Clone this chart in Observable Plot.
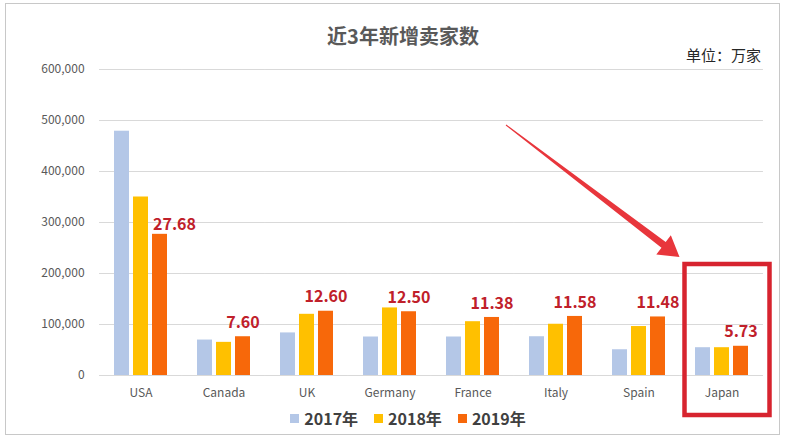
<!DOCTYPE html>
<html>
<head>
<meta charset="utf-8">
<script src="https://cdn.jsdelivr.net/npm/d3@7"></script>
<script src="https://cdn.jsdelivr.net/npm/@observablehq/plot@0.6"></script>
<style>
  html, body { margin: 0; padding: 0; background: #fff; }
  #wrap { position: relative; width: 787px; height: 439px; background: #fff; overflow: hidden;
          font-family: "Noto Sans CJK SC", "Noto Sans", sans-serif; }
  #frame { position: absolute; left: 5px; top: 3px; width: 775px; height: 432px; border: 1px solid #c8c8c8; box-sizing: border-box; }
  #title { position: absolute; left: 0; width: 806px; top: 22px; text-align: center; font-size: 20px; font-weight: bold; color: #595959; line-height: 28px; }
  #unit { position: absolute; right: 26px; top: 44px; font-size: 15px; color: #262626; line-height: 22px; }
  #chart { position: absolute; left: 0; top: 0; }
  #legend { position: absolute; left: 0; width: 816px; top: 406px; display: flex; justify-content: center; gap: 16px; font-size: 16px; font-weight: bold; color: #404040; line-height: 24px; }
  #legend .item { display: flex; align-items: center; gap: 5px; }
  #legend .sw { width: 9px; height: 9px; display: inline-block; }
  #overlay { position: absolute; left: 0; top: 0; pointer-events: none; }
</style>
</head>
<body>
<div id="wrap">
  <div id="frame"></div>
  <div id="chart"></div>
  <div id="title">近3年新增卖家数</div>
  <div id="unit">单位：万家</div>
  <div id="legend"></div>
  <svg id="overlay" width="787" height="439"></svg>
</div>
<script>
const countries = ["USA", "Canada", "UK", "Germany", "France", "Italy", "Spain", "Japan"];
const years = ["2017年", "2018年", "2019年"];
const colors = ["#b4c7e7", "#ffc000", "#f7680a"];
const v2017 = [479000, 69500, 83500, 75500, 75500, 76000, 50500, 54500];
const v2018 = [350000, 65000, 120000, 132500, 105500, 100500, 96000, 54500];
const v2019 = [276800, 76000, 126000, 125000, 113800, 115800, 114800, 57300];
const labels2019 = ["27.68", "7.60", "12.60", "12.50", "11.38", "11.58", "11.48", "5.73"];
const yTicks = [0, 100000, 200000, 300000, 400000, 500000, 600000];

const series = [v2017, v2018, v2019];
const data = [];
countries.forEach((c, i) => {
  years.forEach((yr, j) => data.push({country: c, year: yr, value: series[j][i]}));
});
const labelData = countries.map((c, i) => ({country: c, year: years[2], value: v2019[i], label: labels2019[i]}));

const fxPad = 0.36;
const plotW = 787 - 99 - 24;
const fxStep = plotW / countries.length;
const gapHalf = fxPad * fxStep / 2;

const chart = Plot.plot({
  width: 787,
  height: 439,
  marginTop: 69,
  marginBottom: 64,
  marginLeft: 99,
  marginRight: 24,
  style: {background: "transparent", fontFamily: "'Noto Sans CJK SC', 'Noto Sans', sans-serif"},
  fx: {domain: countries, paddingInner: fxPad, paddingOuter: fxPad / 2, label: null},
  x: {domain: years, paddingInner: 0.22, paddingOuter: 0, axis: null},
  y: {domain: [0, 600000], ticks: yTicks, label: null},
  color: {domain: years, range: colors},
  marks: [
    Plot.gridY(yTicks, {stroke: "#d9d9d9", strokeOpacity: 1, strokeWidth: 1, insetLeft: -gapHalf, insetRight: -gapHalf}),
    Plot.axisY(yTicks, {tickSize: 0, tickPadding: 15 + gapHalf, tickFormat: d3.format(","), fontSize: 12, fill: "#595959", label: null}),
    Plot.axisFx({anchor: "bottom", tickSize: 0, tickPadding: 13, fontSize: 12, fill: "#595959", label: null}),
    Plot.barY(data, {fx: "country", x: "year", y: "value", fill: "year"}),
    Plot.text(labelData.filter((d, i) => i > 0), {fx: "country", x: "year", y: "value", text: "label",
      dy: -14, fill: "#c0202a", fontSize: 16, fontWeight: "bold"}),
    Plot.text(labelData.filter((d, i) => i === 0), {fx: "country", x: "year", y: "value", text: "label",
      dy: -9, dx: -7, textAnchor: "start", fill: "#c0202a", fontSize: 16, fontWeight: "bold"})
  ]
});
document.getElementById("chart").appendChild(chart);

// legend
const legend = document.getElementById("legend");
years.forEach((yr, j) => {
  const item = document.createElement("div");
  item.className = "item";
  const sw = document.createElement("span");
  sw.className = "sw";
  sw.style.background = colors[j];
  const t = document.createElement("span");
  t.textContent = yr;
  item.appendChild(sw); item.appendChild(t);
  legend.appendChild(item);
});

// annotation: highlight box around Japan and an arrow pointing to it
const fx = chart.scale("fx");
const ys = chart.scale("y");
const jStart = fx.apply("Japan");
const jCenter = jStart + fx.bandwidth / 2;
const y0 = ys.apply(0);
const ns = "http://www.w3.org/2000/svg";
const ov = document.getElementById("overlay");
const rect = document.createElementNS(ns, "rect");
const rx0 = jCenter - 37, rx1 = jCenter + 48;
const ry0 = y0 - 111, ry1 = y0 + 40;
rect.setAttribute("x", rx0);
rect.setAttribute("y", ry0);
rect.setAttribute("width", rx1 - rx0);
rect.setAttribute("height", ry1 - ry0);
rect.setAttribute("fill", "none");
rect.setAttribute("stroke", "#d7242f");
rect.setAttribute("stroke-width", 4.5);
ov.appendChild(rect);

const tail = [506, 125];
const tip = [rx0 - 5, ry0 - 7];
const dx = tip[0] - tail[0], dy = tip[1] - tail[1];
const len = Math.hypot(dx, dy);
const u = [dx / len, dy / len];
const n = [-u[1], u[0]];
const headLen = 20, headHalf = 12, shaftHalf = 3.5, tailHalf = 0.5;
const base = [tip[0] - headLen * u[0], tip[1] - headLen * u[1]];
const pt = (p, k) => [p[0] + k * n[0], p[1] + k * n[1]];
const pts = [
  pt(tail, tailHalf), pt(base, shaftHalf), pt(base, headHalf), tip,
  pt(base, -headHalf), pt(base, -shaftHalf), pt(tail, -tailHalf)
];
const poly = document.createElementNS(ns, "polygon");
poly.setAttribute("points", pts.map(p => p.join(",")).join(" "));
poly.setAttribute("fill", "#e8363c");
ov.appendChild(poly);
</script>
</body>
</html>
